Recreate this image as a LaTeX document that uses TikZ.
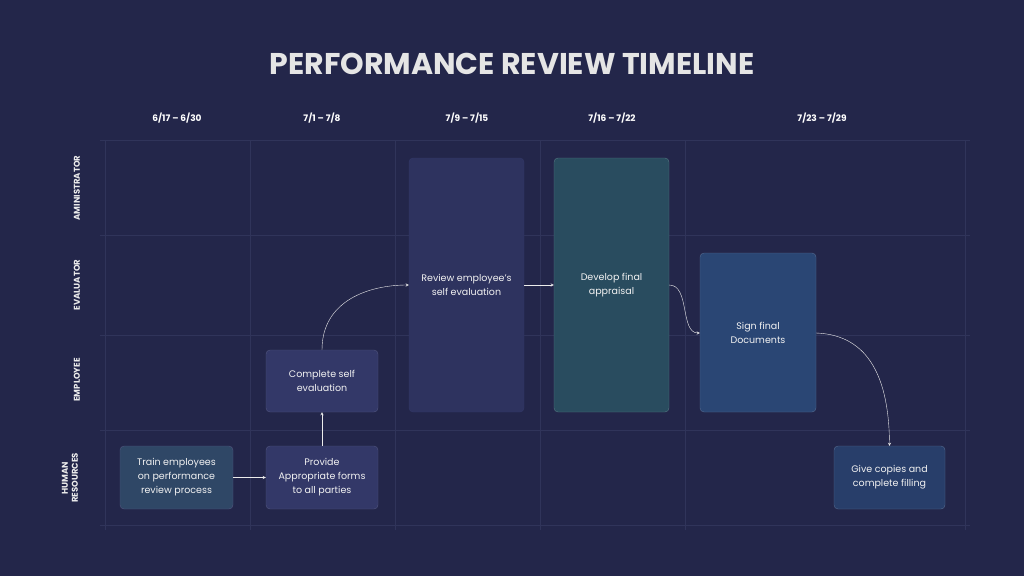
\documentclass[tikz,border=0pt]{standalone}
\usepackage{fontspec}
\setmainfont{Poppins}
\usetikzlibrary{positioning, arrows}
\definecolor{bgnavy}{HTML}{23264A}
\definecolor{gridline}{HTML}{30345A}
\definecolor{boxblue}{HTML}{333868}
\definecolor{boxteal}{HTML}{2B5664}
\definecolor{boxsea}{HTML}{2A4674}
\tikzstyle{task} = [rectangle, rounded corners=4pt, draw=white!15!boxblue, fill=boxblue, text=white!90!gray, align=center, font=\fontsize{9.5}{14}\selectfont]
\tikzstyle{lane} = [text=white!85!gray, font=\bfseries\fontsize{8.5}{10}\selectfont, rotate=90, align=center]
\tikzstyle{head} = [text=white, font=\bfseries\fontsize{9}{10}\selectfont]
\tikzstyle{arrow} = [white!85!gray, thin, ->, >=stealth]
\begin{document}
\begin{tikzpicture}[x=1pt, y=-1pt]
\fill [bgnavy] (0,0) rectangle (1024,576);
\useasboundingbox (0,0) rectangle (1024,576);

\node (title) at (512,64) [text=white!80!gray, font=\bfseries\fontsize{30}{34}\selectfont] {PERFORMANCE REVIEW TIMELINE};

% grid
\foreach \x in {105,250,395,540,685,965}
  \draw [gridline] (\x,140) -- (\x,530);
\foreach \y in {140,235,335,430,525}
  \draw [gridline] (100,\y) -- (970,\y);

% columns
\node (c1) at (177,118) [head] {6/17 – 6/30};
\node (c2) at (322,118) [head] {7/1 – 7/8};
\node (c3) at (467,118) [head] {7/9 – 7/15};
\node (c4) at (612,118) [head] {7/16 – 7/22};
\node (c5) at (822,118) [head] {7/23 – 7/29};

% lanes
\node (admin) at (77,188) [lane] {AMINISTRATOR};
\node (eval) at (77,285) [lane] {EVALUATOR};
\node (empl) at (77,380) [lane] {EMPLOYEE};
\node (hr) at (70,478) [lane] {HUMAN\\RESOURCES};

% tasks
\node (train) at (176.5,477.5) [task, fill=boxteal!50!boxblue, minimum width=113pt, minimum height=63pt] {Train employees\\on performance\\review process};
\node (forms) at (322,477.5) [task, minimum width=112pt, minimum height=63pt] {Provide\\Appropriate forms\\to all parties};
\node (self) at (322,381) [task, minimum width=112pt, minimum height=62pt] {Complete self\\evaluation};
\node (review) at (466.5,285) [task, fill=boxblue!70!bgnavy, draw=boxblue, minimum width=115pt, minimum height=254pt] {};
\node (reviewtxt) at (466.5,285) [task, draw=none, fill=none] {Review employee's\\self evaluation};
\node (develop) at (611.5,285) [task, fill=boxteal!80!bgnavy, draw=boxteal!80!white, minimum width=115pt, minimum height=254pt] {};
\node (developtxt) at (611.5,285) [task, draw=none, fill=none] {Develop final\\appraisal};
\node (sign) at (758,332.5) [task, fill=boxsea, draw=boxsea!80!white, minimum width=116pt, minimum height=159pt] {};
\node (signtxt) at (758,333) [task, draw=none, fill=none] {Sign final\\Documents};
\node (give) at (889.5,477.5) [task, fill=boxsea!75!bgnavy, draw=boxsea!80!white, minimum width=111pt, minimum height=63pt] {Give copies and\\complete filling};

% flow
\draw [arrow] (train) -- (forms);
\draw [arrow] (forms) -- (self);
\draw [arrow] (self.north) .. controls (322,300) and (370,285) .. (review.west |- reviewtxt);
\draw [arrow] (review.east |- reviewtxt) -- (develop.west |- developtxt);
\draw [arrow] (develop.east |- developtxt) .. controls (690,285) and (680,333) .. (sign.west |- signtxt);
\draw [arrow] (sign.east |- signtxt) .. controls (870,335) and (889,380) .. (give.north);

\end{tikzpicture}
\end{document}
